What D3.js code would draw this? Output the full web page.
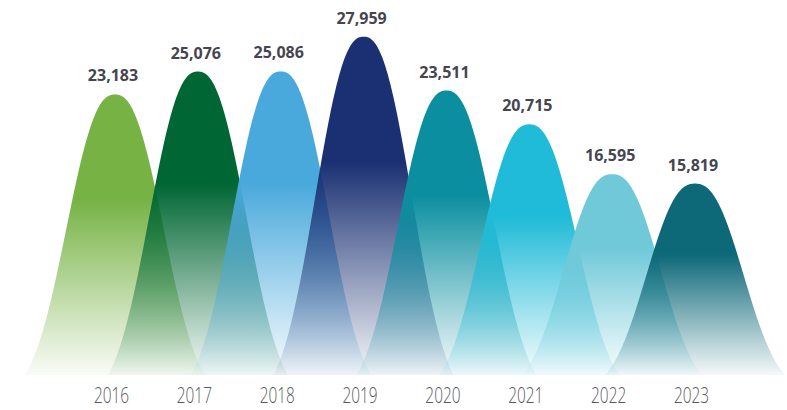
<!DOCTYPE html>
<html>
<head>
<meta charset="utf-8">
<script src="https://cdn.jsdelivr.net/npm/d3@7/dist/d3.min.js"></script>
<style>
  html, body { margin: 0; padding: 0; background: #ffffff; }
  svg { display: block; }
</style>
</head>
<body>
<svg id="chart" width="787" height="410"></svg>
<script>
// Yearly totals, one bell per year
const years  = ["2016", "2017", "2018", "2019", "2020", "2021", "2022", "2023"];
const values = [23183, 25076, 25086, 27959, 23511, 20715, 16595, 15819];
const colors = ["#76b244", "#006633", "#4aa9dc", "#1a3072", "#0b8fa0", "#20bbd8", "#70c9d9", "#0d6878"];

const width = 787, height = 410;
const baseY = 375;

const svg = d3.select("#chart");

const x = d3.scalePoint()
  .domain(years)
  .range([115, 695]);

const y = d3.scaleLinear()
  .domain([0, 30000])
  .range([baseY, 12]);

// Bell profile: a softened gaussian trimmed so that it meets the baseline at +/- halfBase
const halfBase = 90;
const spread = 61;
const power = 2.4;
const bell = u => Math.exp(-Math.pow(Math.abs(u) / spread, power));
const e0 = bell(halfBase);
const profile = u => Math.max(0, (bell(u) - e0) / (1 - e0));

const offsets = d3.range(-halfBase, halfBase + 0.5, 1);

const line = d3.line()
  .x(d => d[0])
  .y(d => d[1]);

// Vertical fades: solid near the crest, almost clear at the base
const defs = svg.append("defs");
years.forEach((yr, i) => {
  const g = defs.append("linearGradient")
    .attr("id", "fade-" + yr)
    .attr("x1", 0).attr("y1", 0)
    .attr("x2", 0).attr("y2", 1);
  g.append("stop").attr("offset", "0").attr("stop-color", colors[i]).attr("stop-opacity", 1);
  g.append("stop").attr("offset", "0.37").attr("stop-color", colors[i]).attr("stop-opacity", 1);
  g.append("stop").attr("offset", "1").attr("stop-color", colors[i]).attr("stop-opacity", 0.04);
});

const data = years.map((yr, i) => ({ year: yr, value: values[i], color: colors[i] }));

svg.append("g")
  .selectAll("path")
  .data(data)
  .join("path")
  .attr("d", d => {
    const cx = x(d.year);
    const top = y(d.value);
    const pts = offsets.map(u => [cx + u, baseY - (baseY - top) * profile(u)]);
    return line(pts) + "Z";
  })
  .attr("fill", d => `url(#fade-${d.year})`);

// Value labels above each crest
svg.append("g")
  .selectAll("text")
  .data(data)
  .join("text")
  .attr("x", d => x(d.year) - 2)
  .attr("y", d => y(d.value) - 13)
  .attr("text-anchor", "middle")
  .attr("font-family", "'Open Sans', sans-serif")
  .attr("font-weight", 700)
  .attr("font-size", 16)
  .attr("fill", "#45454f")
  .text(d => d3.format(",")(d.value));

// Year axis along the bottom
const axis = svg.append("g")
  .attr("transform", `translate(0,${baseY})`)
  .call(d3.axisBottom(x).tickSize(0).tickPadding(0));

axis.select(".domain").remove();
axis.selectAll(".tick text")
  .attr("y", 28)
  .attr("dy", 0)
  .attr("x", 0)
  .attr("transform", "translate(-4,0) scale(0.70,1)")
  .attr("font-family", "'Open Sans', sans-serif")
  .attr("font-weight", 300)
  .attr("font-size", 22)
  .attr("fill", "#58585e");
</script>
</body>
</html>
